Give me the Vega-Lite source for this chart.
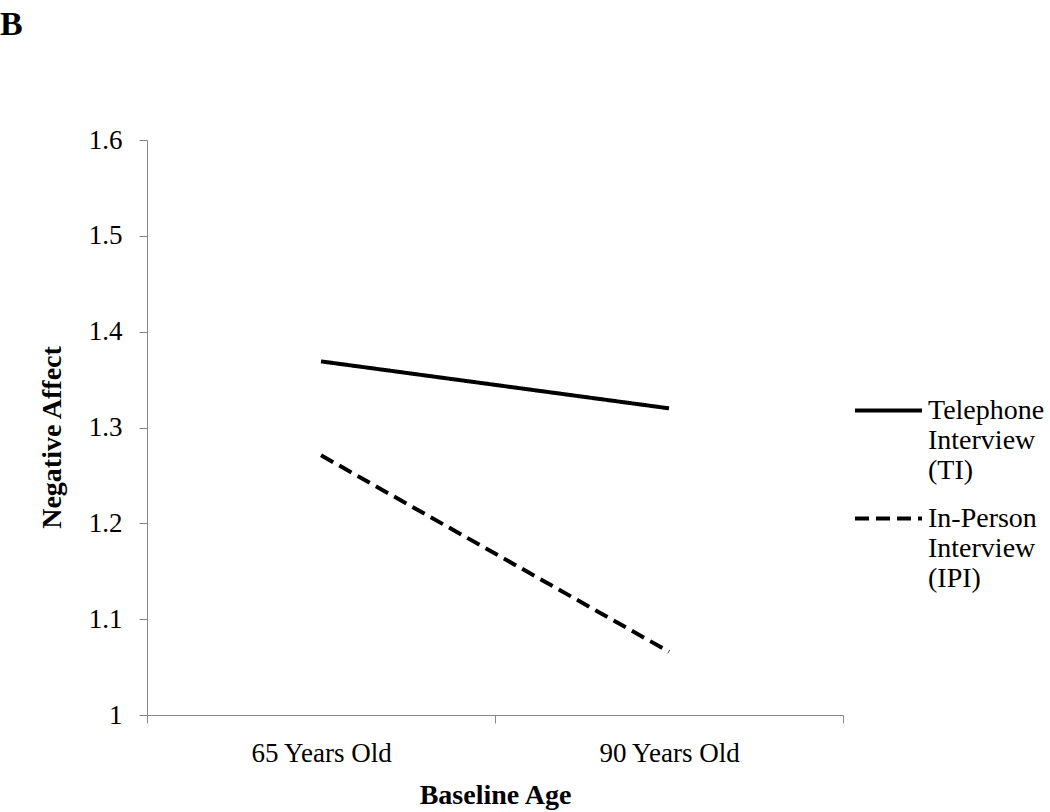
{
  "$schema": "https://vega.github.io/schema/vega-lite/v6.json",
  "width": 696,
  "height": 575,
  "autosize": {"type": "none"},
  "padding": {"left": 147, "top": 140, "right": 207, "bottom": 97},
  "background": "white",
  "title": {
    "text": "B",
    "anchor": "start",
    "frame": "group",
    "font": "Liberation Serif",
    "fontSize": 34,
    "fontWeight": "bold",
    "color": "black",
    "dx": -147,
    "offset": 84
  },
  "data": {
    "values": [
      {"age": "65 Years Old", "group": "Telephone Interview (TI)", "affect": 1.369},
      {"age": "90 Years Old", "group": "Telephone Interview (TI)", "affect": 1.320},
      {"age": "65 Years Old", "group": "In-Person Interview (IPI)", "affect": 1.271},
      {"age": "90 Years Old", "group": "In-Person Interview (IPI)", "affect": 1.066}
    ]
  },
  "mark": {"type": "line", "strokeWidth": 4, "color": "black"},
  "encoding": {
    "x": {
      "field": "age",
      "type": "nominal",
      "scale": {"paddingInner": 0, "paddingOuter": 0},
      "axis": {
        "title": "Baseline Age",
        "labelAngle": 0,
        "tickBand": "extent",
        "tickSize": 8,
        "tickColor": "#868686",
        "domainColor": "#868686",
        "labelFont": "Liberation Serif",
        "labelFontSize": 27,
        "labelColor": "black",
        "labelPadding": 17,
        "titleFont": "Liberation Serif",
        "titleFontSize": 28,
        "titleFontWeight": "bold",
        "titleColor": "black",
        "titlePadding": 15
      }
    },
    "y": {
      "field": "affect",
      "type": "quantitative",
      "scale": {"domain": [1, 1.6], "nice": false, "zero": false},
      "axis": {
        "title": "Negative Affect",
        "values": [1, 1.1, 1.2, 1.3, 1.4, 1.5, 1.6],
        "format": "~g",
        "grid": false,
        "tickSize": 8,
        "tickColor": "#868686",
        "domainColor": "#868686",
        "labelFont": "Liberation Serif",
        "labelFontSize": 27,
        "labelColor": "black",
        "labelPadding": 17,
        "titleFont": "Liberation Serif",
        "titleFontSize": 28,
        "titleFontWeight": "bold",
        "titleColor": "black",
        "titlePadding": 22,
        "titleY": 297
      }
    },
    "strokeDash": {
      "field": "group",
      "type": "nominal",
      "scale": {
        "domain": ["Telephone Interview (TI)", "In-Person Interview (IPI)"],
        "range": [[1, 0], [14, 7]]
      },
      "legend": {
        "title": null,
        "orient": "none",
        "legendX": 706,
        "legendY": 237,
        "symbolType": "stroke",
        "symbolSize": 4489,
        "symbolStrokeWidth": 4,
        "symbolStrokeColor": "black",
        "labelFont": "Liberation Serif",
        "labelFontSize": 28,
        "labelColor": "black",
        "labelLimit": 300,
        "labelOffset": 4,
        "labelLineHeight": 32,
        "rowPadding": 0,
        "clipHeight": 67,
        "labelExpr": "datum.label == 'Telephone Interview (TI)' ? ['Telephone', 'Interview', '(TI)'] : ['In-Person', 'Interview', '(IPI)']"
      }
    }
  },
  "config": {"view": {"stroke": null}}
}
